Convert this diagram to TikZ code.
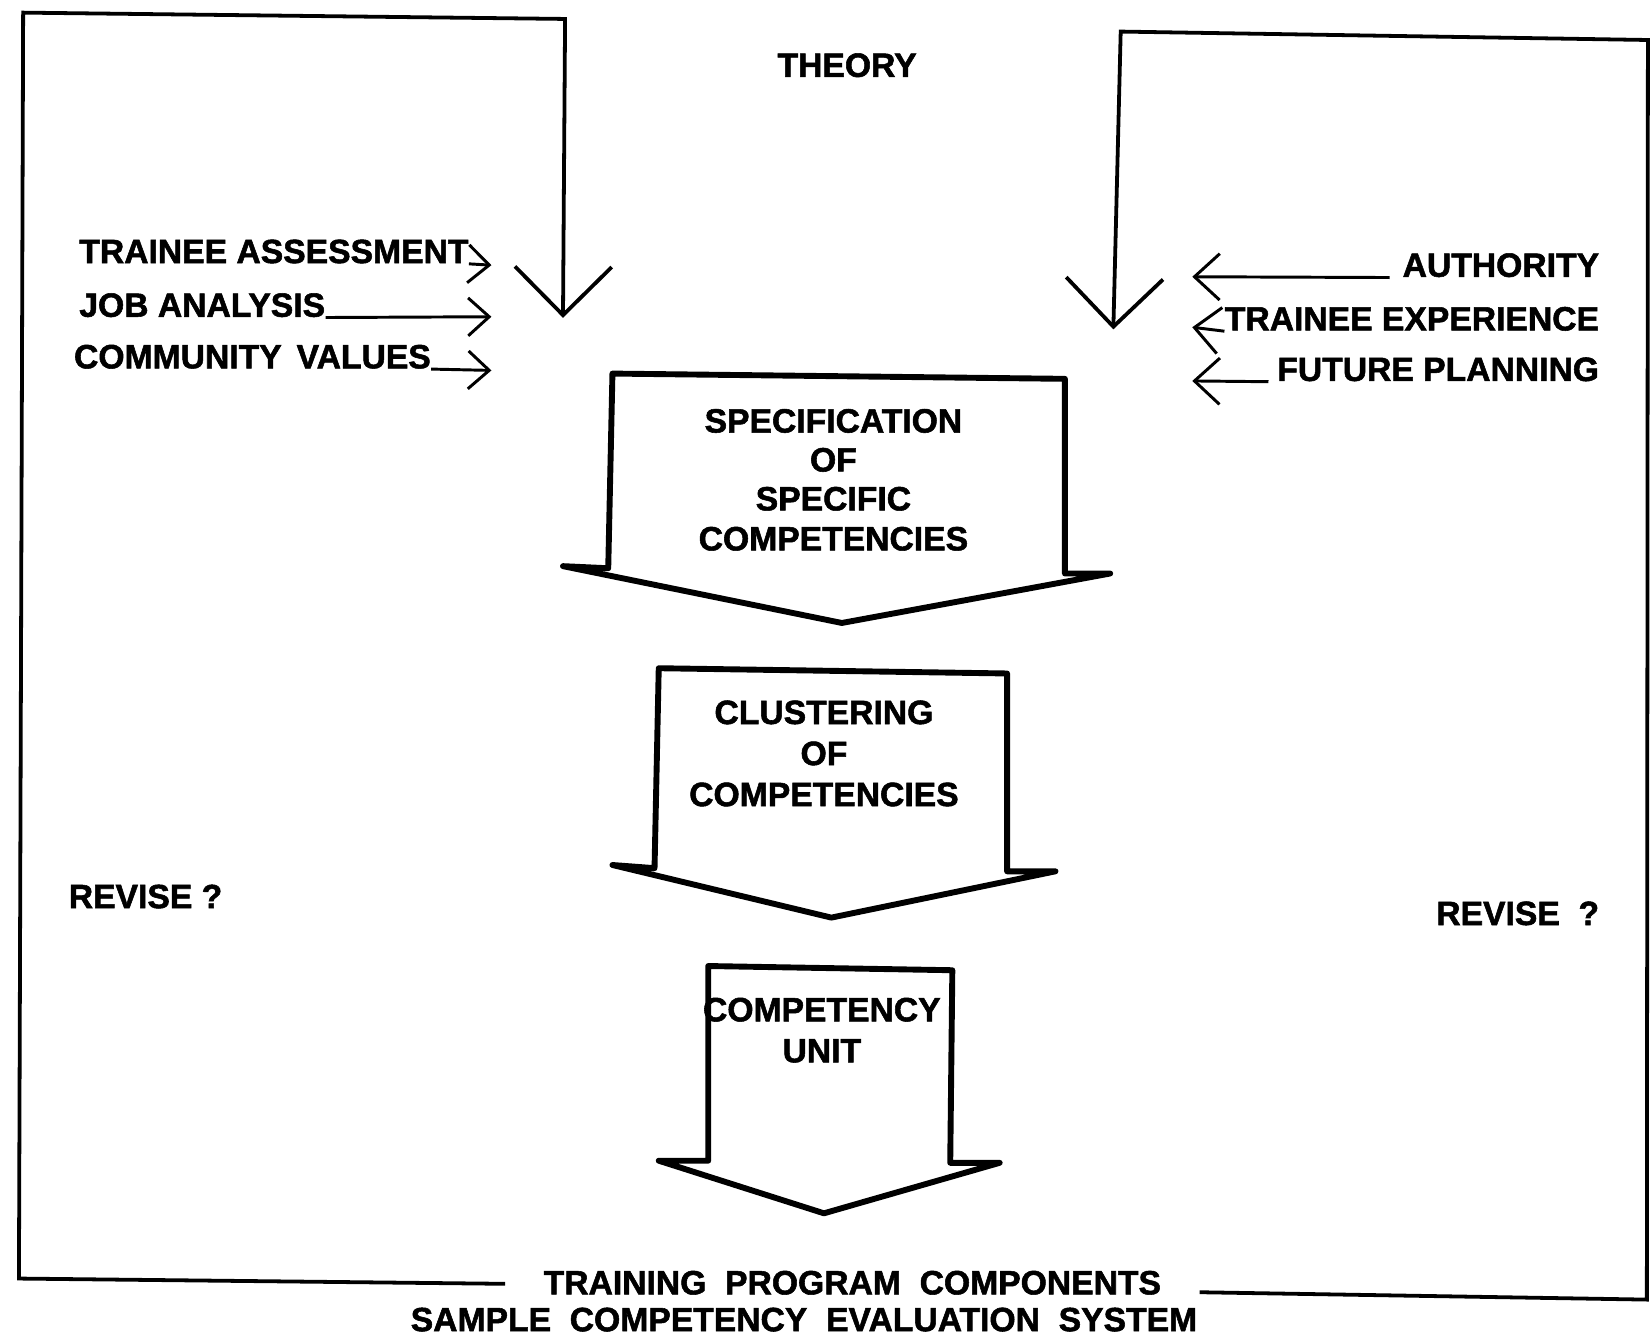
\documentclass[tikz,border=0pt]{standalone}
\usepackage{fontspec}
\newfontfamily\lbf[BoldFeatures={FakeBold=1.6}]{Liberation Sans}
\usetikzlibrary{arrows.meta}
\tikzset{
  lbl/.style={font=\lbf\bfseries\fontsize{16}{19}\selectfont, inner sep=0pt},
  boxlbl/.style={lbl, align=center},
  loopline/.style={line width=1.8pt, line join=miter, -{Straight Barb[length=23pt,width=46pt]}},
  inarrow/.style={line width=1.4pt, -{Straight Barb[length=10pt,width=18pt]}},
  rinarrow/.style={line width=1.4pt, -{Straight Barb[length=12pt,width=22pt]}},
  bigarrow/.style={line width=2.8pt, line join=round}
}
\begin{document}
\begin{tikzpicture}[x=0.5pt,y=-0.5pt]
\useasboundingbox (0,0) rectangle (1568,1270);
\fill[white] (0,0) rectangle (1568,1270);

% title
\node[lbl] (theory) at (805,62) {THEORY};

% left inputs
\node[lbl, anchor=west] (ta) at (75,239) {TRAINEE ASSESSMENT};
\node[lbl, anchor=west] (ja) at (75,290) {JOB ANALYSIS};
\node[lbl, anchor=west] (cv) at (70,339) {COMMUNITY~\,VALUES};
\coordinate (taend) at (467,252);
\coordinate (jaend) at (467,301);
\coordinate (cvend) at (467,352);
\draw[inarrow] (ta.south east) -- (taend);
\draw[inarrow] (ja.south east) -- (jaend);
\draw[inarrow] (cv.south east) -- (cvend);

% right inputs
\node[lbl, anchor=east] (au) at (1520,252) {AUTHORITY};
\node[lbl, anchor=east] (te) at (1520,303) {TRAINEE EXPERIENCE};
\node[lbl, anchor=east] (fp) at (1520,351) {FUTURE PLANNING};
\coordinate (auend) at (1133,263);
\coordinate (teend) at (1133,311);
\coordinate (fpend) at (1133,362);
\draw[rinarrow] (au.south west) ++(-12,0) -- (auend);
\draw[rinarrow] (te.south west) -- (teend);
\draw[rinarrow] (fp.south west) ++(-8,0) -- (fpend);

% feedback loops
\node[lbl] (tpc) at (810,1219) {TRAINING~ PROGRAM~ COMPONENTS};
\node[lbl] (sces) at (764,1254) {SAMPLE~ COMPETENCY~ EVALUATION~ SYSTEM};
\coordinate (l0) at (480,1220);
\coordinate (l1) at (18,1215);
\coordinate (l2) at (22,12);
\coordinate (l3) at (537,18);
\coordinate (ltip) at (535,302);
\draw[loopline] (l0) -- (l1) -- (l2) -- (l3) -- (ltip);
\coordinate (r0) at (1140,1228);
\coordinate (r1) at (1565,1235);
\coordinate (r2) at (1566,38);
\coordinate (r3) at (1065,30);
\coordinate (rtip) at (1058,313);
\draw[loopline] (r0) -- (r1) -- (r2) -- (r3) -- (rtip);

% block arrows
\draw[bigarrow] (578,540) -- (582,355) -- (1012,360) -- (1012,545) -- (1055,545) -- (800,592) -- (535,538) -- cycle;
\node[boxlbl] (spec) at (792,456) {SPECIFICATION\\[-0.5pt]OF\\[-0.5pt]SPECIFIC\\[0pt]COMPETENCIES};

\draw[bigarrow] (622,825) -- (626,635) -- (957,640) -- (957,828) -- (1003,828) -- (790,872) -- (582,822) -- cycle;
\node[boxlbl] (clus) at (783,716) {CLUSTERING\\[0.5pt]OF\\[0.5pt]COMPETENCIES};

\draw[bigarrow] (673,1103) -- (673,918) -- (905,922) -- (903,1105) -- (950,1105) -- (783,1153) -- (626,1103) -- cycle;
\node[boxlbl] (unit) at (781,979) {COMPETENCY\\[0.5pt]UNIT};

% revise
\node[lbl, anchor=west] (revl) at (65,852) {REVISE ?};
\node[lbl, anchor=east] (revr) at (1520,868) {REVISE ~?};
\end{tikzpicture}
\end{document}
